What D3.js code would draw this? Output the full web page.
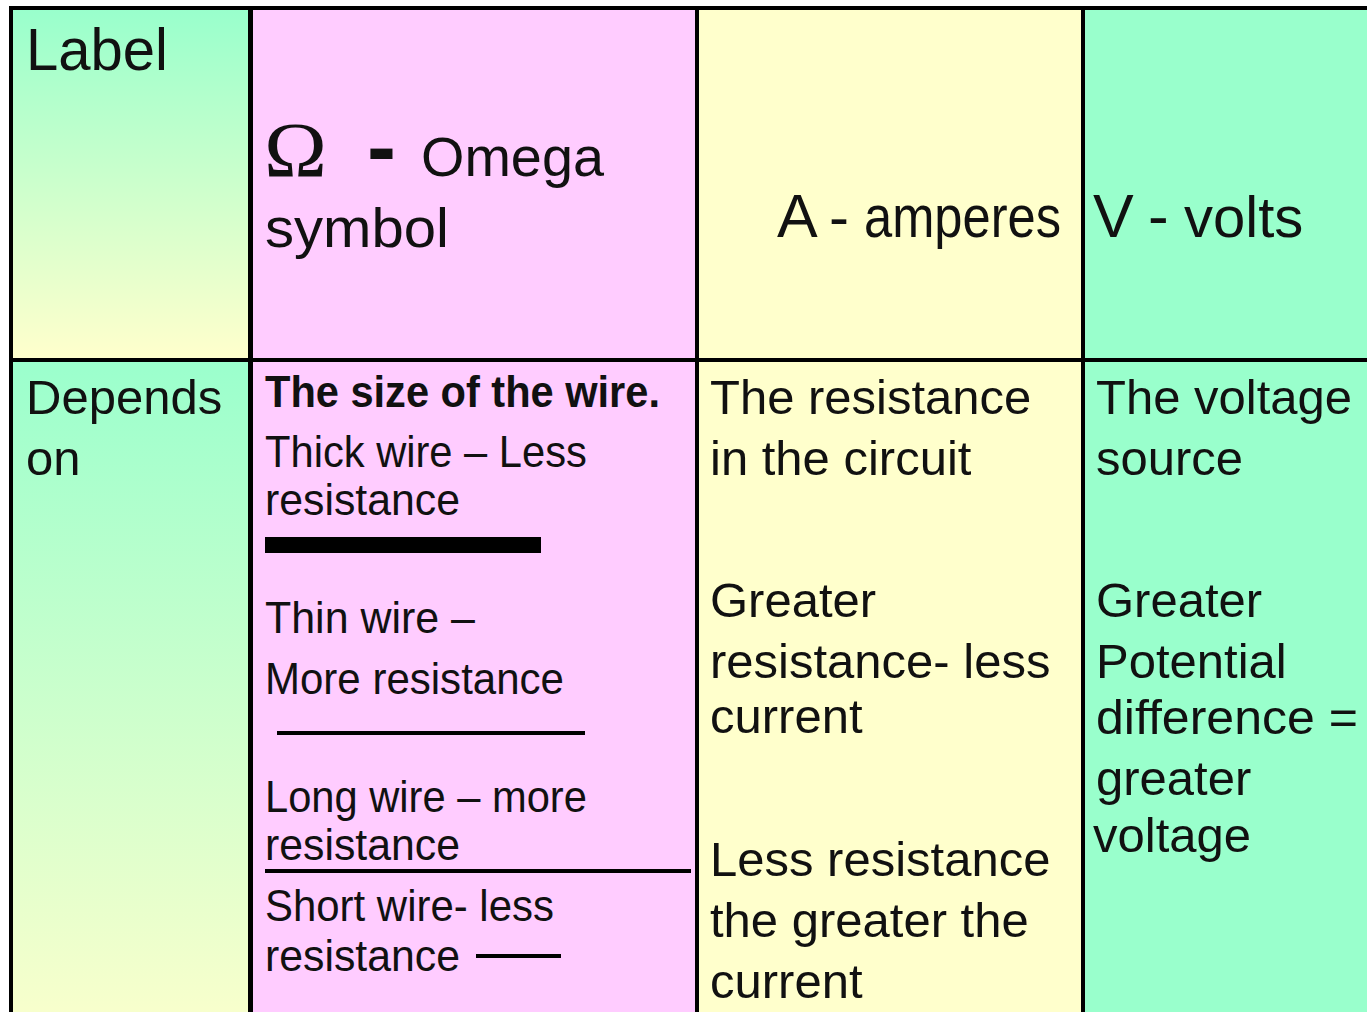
<!DOCTYPE html>
<html>
<head>
<meta charset="utf-8">
<script src="https://cdn.jsdelivr.net/npm/d3@7"></script>
<style>
  html, body { margin: 0; padding: 0; background: #fff; }
  svg { display: block; }
</style>
</head>
<body>
<svg id="chart" width="1367" height="1012"></svg>
<script>
// ---------- content ----------
const columnKeys = ["label", "resistance", "current", "voltage"];
const headerTexts = ["Label", "Ω - Omega symbol", "A - amperes", "V - volts"];
const rowLabelLines = ["Depends", "on"];
const resistanceLines = [
  "The size of the wire.",
  "Thick wire – Less", "resistance",
  "Thin wire –", "More resistance",
  "Long wire – more", "resistance",
  "Short wire- less", "resistance"
];
const currentLines = [
  "The resistance", "in the circuit",
  "Greater", "resistance- less", "current",
  "Less resistance", "the greater the", "current"
];
const voltageLines = [
  "The voltage", "source",
  "Greater", "Potential", "difference =", "greater", "voltage"
];
const wireSamples = ["thick", "thin", "long", "short"];

// ---------- layout ----------
const W = 1367, H = 1012;
const svg = d3.select("#chart");
const x = d3.scaleOrdinal().domain(columnKeys).range([13, 253, 699, 1085]);
const xEnd = d3.scaleOrdinal().domain(columnKeys).range([248, 695, 1081, 1367]);
const rowTop = d3.scaleOrdinal().domain(["header", "body"]).range([10, 362]);
const rowBot = d3.scaleOrdinal().domain(["header", "body"]).range([358, 1012]);
const fill = d3.scaleOrdinal().domain(columnKeys)
  .range(["url(#g)", "#FFCCFF", "#FFFFCC", "#99FFCC"]);

const defs = svg.append("defs");
function grad(id, y1, y2, c1, c2) {
  const g = defs.append("linearGradient").attr("id", id)
    .attr("gradientUnits", "userSpaceOnUse")
    .attr("x1", 0).attr("x2", 0).attr("y1", y1).attr("y2", y2);
  g.append("stop").attr("offset", 0).attr("stop-color", c1);
  g.append("stop").attr("offset", 1).attr("stop-color", c2);
}
grad("gHead", 10, 358, "#99FFCC", "#FFFFCC");
grad("gBody", 362, 1030, "#9BFFCD", "#FAFFCC");

svg.append("rect").attr("width", W).attr("height", H).attr("fill", "#fff");

["header", "body"].forEach(r => {
  columnKeys.forEach(k => {
    let f = fill(k);
    if (k === "label") f = r === "header" ? "url(#gHead)" : "url(#gBody)";
    svg.append("rect")
      .attr("x", x(k)).attr("y", rowTop(r))
      .attr("width", xEnd(k) - x(k)).attr("height", rowBot(r) - rowTop(r))
      .attr("fill", f);
  });
});

// borders
const borders = svg.append("g").attr("fill", "#000");
borders.append("rect").attr("x", 9).attr("y", 6).attr("width", W - 9).attr("height", 4);
borders.append("rect").attr("x", 9).attr("y", 6).attr("width", 4).attr("height", H - 6);
borders.append("rect").attr("x", 248).attr("y", 6).attr("width", 5).attr("height", H - 6);
borders.append("rect").attr("x", 695).attr("y", 6).attr("width", 4).attr("height", H - 6);
borders.append("rect").attr("x", 1081).attr("y", 6).attr("width", 4).attr("height", H - 6);
borders.append("rect").attr("x", 9).attr("y", 358).attr("width", W - 9).attr("height", 4);

// text helper: optional horizontal fit via scale transform
const SANS = "'Liberation Sans', Arial, Helvetica, sans-serif";
const SERIF = "'Liberation Serif', 'Times New Roman', serif";
const tg = svg.append("g").attr("fill", "#111");
function txt(s, px, py, size, opts = {}) {
  const t = tg.append("text")
    .attr("x", 0).attr("y", 0)
    .attr("font-family", opts.family || SANS)
    .attr("font-size", size)
    .attr("font-weight", opts.weight || "normal")
    .text(s);
  let sx = 1;
  if (opts.len) {
    const nat = t.node().getComputedTextLength();
    if (nat > 0) sx = opts.len / nat;
  }
  t.attr("transform", `translate(${px},${py}) scale(${sx},1)`);
  return t;
}

// header row
txt(headerTexts[0], 26, 70, 60, { len: 142 });
const omegaParts = headerTexts[1].split(" "); // ["Ω","-","Omega","symbol"]
txt(omegaParts[0], 264, 176, 78, { family: SERIF, len: 63 });
txt(omegaParts[1], 367, 176, 88, { weight: "bold", len: 29 });
txt(omegaParts[2], 421, 176, 56, { len: 183 });
txt(omegaParts[3], 265, 247, 56, { len: 184 });
const ampParts = headerTexts[2].split(" ");
txt(ampParts[0], 777, 237, 61);
txt(ampParts[1], 829, 237, 60);
txt(ampParts[2], 864, 237, 60, { len: 197 });
const voltParts = headerTexts[3].split(" ");
txt(voltParts[0], 1093, 237, 61);
txt(voltParts[1], 1148, 237, 62);
txt(voltParts[2], 1184, 237, 58);

// body row, column 1
const lh = 61;
rowLabelLines.forEach((s, i) => txt(s, 26, 414 + i * lh, 49));

// body row, column 2 (resistance)
const resY = [407, 467, 515, 633, 694, 812, 860, 921, 971];
const resLen = [395, 322, 195, 210, 299, 322, 195, 289, 195];
resistanceLines.forEach((s, i) => {
  txt(s, 265, resY[i], i === 0 ? 44 : 45, { weight: i === 0 ? "bold" : "normal", len: resLen[i] });
});

// wire sample lines
const wireRects = {
  thick: [265, 537, 276, 16],
  thin: [277, 731, 308, 4],
  long: [265, 869, 426, 4],
  short: [476, 954, 85, 4]
};
svg.append("g").selectAll("rect").data(wireSamples).join("rect")
  .attr("x", d => wireRects[d][0]).attr("y", d => wireRects[d][1])
  .attr("width", d => wireRects[d][2]).attr("height", d => wireRects[d][3])
  .attr("fill", "#000");

// column 3 (current)
const curY = [414, 475, 617, 678, 733, 876, 937, 998];
currentLines.forEach((s, i) => txt(s, 710, curY[i], 49));

// column 4 (voltage)
const volY = [414, 475, 617, 678, 734, 795, 852];
voltageLines.forEach((s, i) => txt(s, i === 6 ? 1093 : 1096, volY[i], 49, i === 4 ? { len: 262 } : {}));
</script>
</body>
</html>
